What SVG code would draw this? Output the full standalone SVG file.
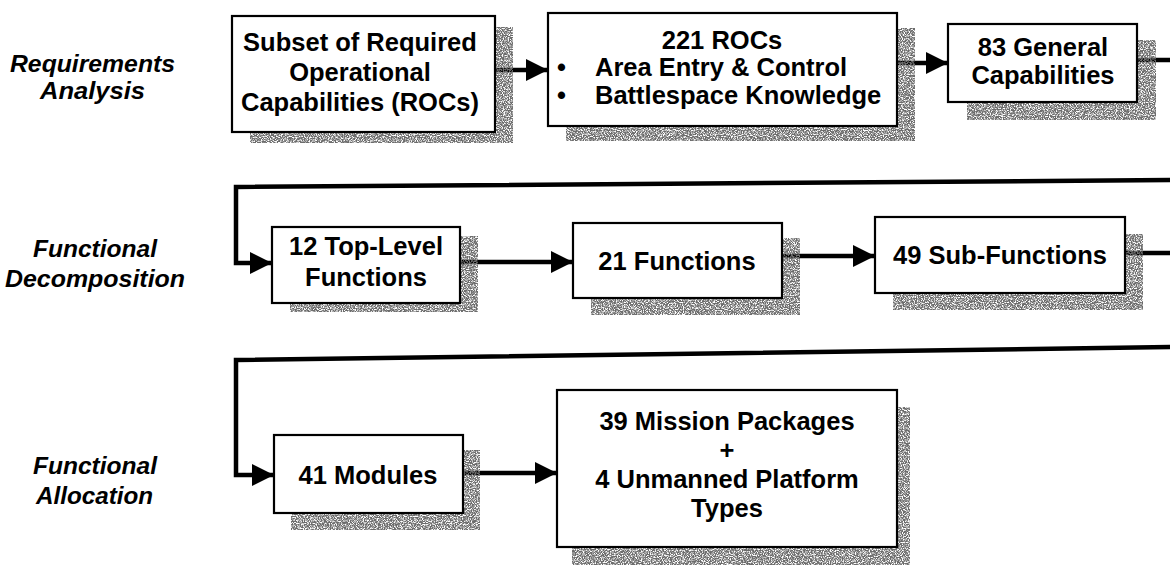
<svg xmlns="http://www.w3.org/2000/svg" width="1170" height="565" viewBox="0 0 1170 565">
  <defs>
    <style>
      .box { fill: #ffffff; stroke: #000000; stroke-width: 2.2; }
      .shadow { fill: #000000; filter: url(#stipple); }
      .t { font-family: "Liberation Sans", Arial, sans-serif; font-weight: bold; font-size: 25.5px; fill: #000000; }
      .c { text-anchor: middle; }
      .lab { font-family: "Liberation Sans", Arial, sans-serif; font-weight: bold; font-style: italic; font-size: 23px; fill: #000000; }
      .conn { fill: none; stroke: #000000; stroke-width: 4.5; stroke-linejoin: miter; }
    </style>
    <filter id="stipple" x="0" y="0" width="100%" height="100%">
      <feTurbulence type="fractalNoise" baseFrequency="0.85" numOctaves="2" seed="7" result="n"/>
      <feColorMatrix in="n" type="matrix" values="0 0 0 0 0.15  0 0 0 0 0.15  0 0 0 0 0.15  4 0 0 0 -1.3" result="d"/>
      <feComposite in="d" in2="SourceGraphic" operator="in"/>
    </filter>
    <marker id="arrow" markerUnits="userSpaceOnUse" markerWidth="22" markerHeight="22" refX="20" refY="10" orient="auto" viewBox="0 0 20 20">
      <path d="M0,0 L20,10 L0,20 Z" fill="#000000"/>
    </marker>
  </defs>
  <rect width="1170" height="565" fill="#ffffff"/>

  <g id="labels">
    <text class="lab" x="10" y="72" textLength="165" lengthAdjust="spacingAndGlyphs">Requirements</text>
    <text class="lab" x="40" y="99" textLength="105" lengthAdjust="spacingAndGlyphs">Analysis</text>
    <text class="lab" x="33" y="257" textLength="124" lengthAdjust="spacingAndGlyphs">Functional</text>
    <text class="lab" x="5" y="287" textLength="180" lengthAdjust="spacingAndGlyphs">Decomposition</text>
    <text class="lab" x="33" y="474" textLength="124" lengthAdjust="spacingAndGlyphs">Functional</text>
    <text class="lab" x="36" y="504" textLength="117" lengthAdjust="spacingAndGlyphs">Allocation</text>
  </g>

  <g id="connectors">
    <line class="conn" x1="495" y1="70" x2="548" y2="70" marker-end="url(#arrow)"/>
    <line class="conn" x1="897" y1="63" x2="948" y2="63" marker-end="url(#arrow)"/>
    <line class="conn" x1="1137" y1="60" x2="1172" y2="60"/>
    <polyline class="conn" points="1172,180 236,187 236,263 272,263" marker-end="url(#arrow)"/>
    <line class="conn" x1="460" y1="262" x2="573" y2="262" marker-end="url(#arrow)"/>
    <line class="conn" x1="782" y1="256" x2="875" y2="256" marker-end="url(#arrow)"/>
    <line class="conn" x1="1125" y1="253" x2="1172" y2="253"/>
    <polyline class="conn" points="1172,347 236,360 236,475 274,475" marker-end="url(#arrow)"/>
    <line class="conn" x1="463" y1="473" x2="557" y2="473" marker-end="url(#arrow)"/>
  </g>

  <g id="n1">
    <rect class="shadow" x="250" y="27" width="263" height="116"/>
    <rect class="box" x="232" y="16" width="263" height="116"/>
    <text class="t c" x="360" y="51">Subset of Required</text>
    <text class="t c" x="360" y="81">Operational</text>
    <text class="t c" x="360" y="111">Capabilities (ROCs)</text>
  </g>

  <g id="n2">
    <rect class="shadow" x="566" y="28" width="349" height="113"/>
    <rect class="box" x="548" y="13" width="349" height="113"/>
    <text class="t c" x="722" y="49">221 ROCs</text>
    <text class="t" x="557" y="76">•</text>
    <text class="t" x="595" y="76">Area Entry &amp; Control</text>
    <text class="t" x="557" y="104">•</text>
    <text class="t" x="595" y="104">Battlespace Knowledge</text>
  </g>

  <g id="n3">
    <rect class="shadow" x="967" y="40" width="189" height="80"/>
    <rect class="box" x="948" y="24" width="189" height="78"/>
    <text class="t c" x="1043" y="56">83 General</text>
    <text class="t c" x="1043" y="84">Capabilities</text>
  </g>

  <g id="n4">
    <rect class="shadow" x="290" y="236" width="188" height="76"/>
    <rect class="box" x="272" y="227" width="188" height="76"/>
    <text class="t c" x="366" y="255">12 Top-Level</text>
    <text class="t c" x="366" y="286">Functions</text>
  </g>

  <g id="n5">
    <rect class="shadow" x="591" y="238" width="209" height="77"/>
    <rect class="box" x="573" y="223" width="209" height="75"/>
    <text class="t c" x="677" y="270">21 Functions</text>
  </g>

  <g id="n6">
    <rect class="shadow" x="893" y="234" width="250" height="76"/>
    <rect class="box" x="875" y="217" width="250" height="76"/>
    <text class="t c" x="1000" y="264">49 Sub-Functions</text>
  </g>

  <g id="n7">
    <rect class="shadow" x="291" y="450" width="189" height="80"/>
    <rect class="box" x="274" y="435" width="189" height="78"/>
    <text class="t c" x="368" y="484">41 Modules</text>
  </g>

  <g id="n8">
    <rect class="shadow" x="572" y="407" width="338" height="160"/>
    <rect class="box" x="557" y="390" width="340" height="157"/>
    <text class="t c" x="727" y="430">39 Mission Packages</text>
    <text class="t c" x="727" y="459">+</text>
    <text class="t c" x="727" y="488">4 Unmanned Platform</text>
    <text class="t c" x="727" y="517">Types</text>
  </g>
</svg>
